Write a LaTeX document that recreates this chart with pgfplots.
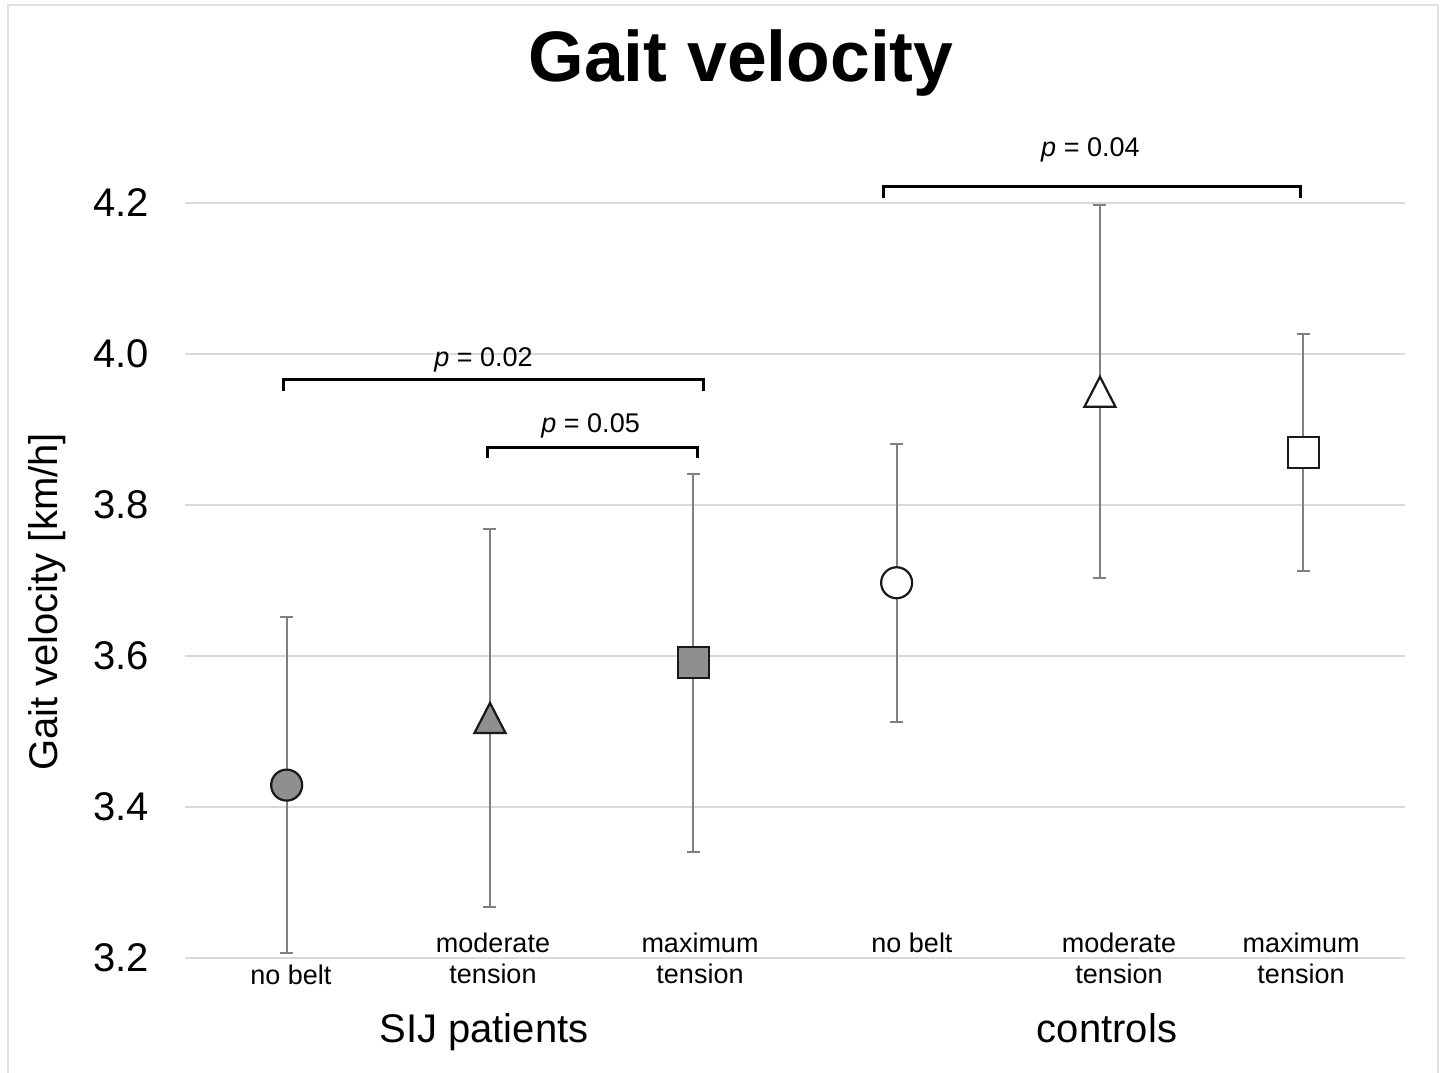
\documentclass[border=0pt]{standalone}
\usepackage{pgfplots}
\pgfplotsset{compat=1.18}
\usepackage{fontspec}
\setmainfont{Liberation Sans}
\definecolor{gridc}{RGB}{217,217,217}
\definecolor{framec}{RGB}{225,225,225}
\definecolor{barc}{RGB}{128,128,128}
\definecolor{sijgray}{RGB}{143,143,143}
\definecolor{edgec}{RGB}{25,25,25}
\pgfdeclareplotmark{tri}{%
  \pgfpathmoveto{\pgfpoint{0pt}{15pt}}%
  \pgfpathlineto{\pgfpoint{15.5pt}{-15pt}}%
  \pgfpathlineto{\pgfpoint{-15.5pt}{-15pt}}%
  \pgfpathclose
  \pgfusepathqfillstroke}
\newcommand{\fa}{\fontsize{27}{31}\selectfont}
\newcommand{\fb}{\fontsize{40}{48}\selectfont}
\begin{document}
\begin{tikzpicture}[x=1pt,y=1pt]
\useasboundingbox (0,0) rectangle (1443,1072);
\draw[framec, line width=2.5pt] (8,-10) rectangle (1438,1067);
\node[anchor=base, font=\fontsize{71.5}{78}\selectfont\bfseries, inner sep=0pt] at (741,990) {Gait velocity};
\node[rotate=90, font=\fb, inner sep=0pt] at (47,470) {Gait velocity [km/h]};
\begin{axis}[
  at={(185pt,114pt)}, anchor=south west,
  scale only axis, width=1220pt, height=755pt,
  xmin=0.5, xmax=6.5, ymin=3.2, ymax=4.2,
  ytick={3.2,3.4,3.6,3.8,4.0,4.2}, xtick=\empty,
  axis x line*=bottom, axis y line*=left,
  axis line style={draw=none},
  ymajorgrids, grid style={gridc, line width=2pt},
  major tick length=0pt,
  yticklabel style={font=\fb, inner sep=0pt, xshift=-36pt,
    /pgf/number format/.cd, fixed, fixed zerofill, precision=1, assume math mode=true},
  clip=false,
  error bars/y dir=both, error bars/y explicit,
  error bars/error bar style={barc, line width=2pt},
  error bars/error mark options={rotate=90, barc, mark size=6.5pt, line width=2pt},
]
% SIJ patients
\addplot[only marks, mark=*, mark size=15.5pt, mark options={fill=sijgray, draw=edgec, line width=2.2pt}]
  coordinates {(1,3.429) +- (0,0.2225)};
\addplot[only marks, mark=tri, mark options={fill=sijgray, draw=edgec, line width=2.2pt}]
  coordinates {(2,3.518) +- (0,0.2503)};
\addplot[only marks, mark=square*, mark size=15.5pt, mark options={fill=sijgray, draw=edgec, line width=2.2pt}]
  coordinates {(3,3.591) +- (0,0.2503)};
% controls
\addplot[only marks, mark=*, mark size=15.5pt, mark options={fill=white, draw=edgec, line width=2.2pt}]
  coordinates {(4,3.697) +- (0,0.184)};
\addplot[only marks, mark=tri, mark options={fill=white, draw=edgec, line width=2.2pt}]
  coordinates {(5,3.950) +- (0,0.247)};
\addplot[only marks, mark=square*, mark size=15.5pt, mark options={fill=white, draw=edgec, line width=2.2pt}]
  coordinates {(6,3.870) +- (0,0.157)};
% significance brackets
\draw[black, line width=3pt] (axis cs:0.985,3.951) -- (axis cs:0.985,3.9656) -- (axis cs:3.050,3.9656) -- (axis cs:3.050,3.951);
\draw[black, line width=3pt] (axis cs:1.988,3.862) -- (axis cs:1.988,3.8768) -- (axis cs:3.021,3.8768) -- (axis cs:3.021,3.862);
\draw[black, line width=3pt] (axis cs:3.935,4.2066) -- (axis cs:3.935,4.2212) -- (axis cs:5.985,4.2212) -- (axis cs:5.985,4.2066);
\node[anchor=base, font=\fa, inner sep=0pt] at (axis cs:1.968,3.9828) {\textit{p} = 0.02};
\node[anchor=base, font=\fa, inner sep=0pt] at (axis cs:2.495,3.8954) {\textit{p} = 0.05};
\node[anchor=base, font=\fa, inner sep=0pt] at (axis cs:4.953,4.261) {\textit{p} = 0.04};
\end{axis}
% category labels
\node[anchor=base, font=\fa, inner sep=0pt] at (291,88) {no belt};
\node[anchor=base, font=\fa, inner sep=0pt] at (493,120) {moderate};
\node[anchor=base, font=\fa, inner sep=0pt] at (493,89) {tension};
\node[anchor=base, font=\fa, inner sep=0pt] at (700,120) {maximum};
\node[anchor=base, font=\fa, inner sep=0pt] at (700,89) {tension};
\node[anchor=base, font=\fa, inner sep=0pt] at (912,120) {no belt};
\node[anchor=base, font=\fa, inner sep=0pt] at (1119,120) {moderate};
\node[anchor=base, font=\fa, inner sep=0pt] at (1119,89) {tension};
\node[anchor=base, font=\fa, inner sep=0pt] at (1301,120) {maximum};
\node[anchor=base, font=\fa, inner sep=0pt] at (1301,89) {tension};
\node[anchor=base, font=\fb, inner sep=0pt] at (484,30) {SIJ patients};
\node[anchor=base, font=\fb, inner sep=0pt] at (1107,30) {controls};
\end{tikzpicture}
\end{document}
